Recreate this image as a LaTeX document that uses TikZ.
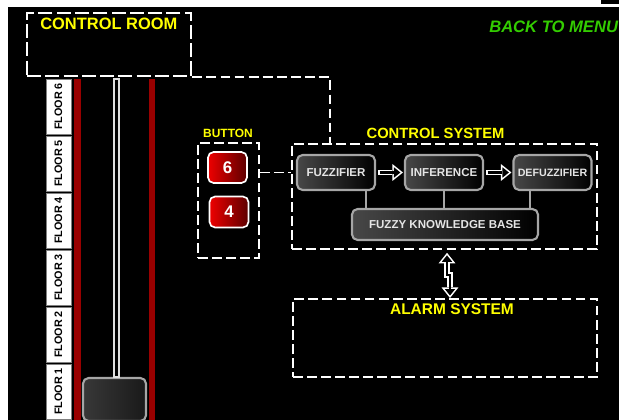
\documentclass[tikz,border=0pt]{standalone}
\usepackage{fontspec}
\setmainfont{Liberation Sans}
\usetikzlibrary{arrows.meta}

\definecolor{railred}{HTML}{990000}
\definecolor{menugreen}{HTML}{33CC00}
\definecolor{labelyellow}{HTML}{FFFF00}
\definecolor{boxgray}{HTML}{A6A6A6}
\definecolor{btnlight}{HTML}{EE0000}
\definecolor{btndark}{HTML}{5C0000}

\tikzset{
    outtip/.tip={Triangle[length=7.5pt, width=12pt, line width=0pt]},
    intip/.tip={Triangle[length=4.6pt, width=7.4pt, line width=0pt]},
    dashbox/.style={draw=white, line width=1.4pt, dash pattern=on 7pt off 3pt, inner sep=0pt},
    wire/.style={draw=white, line width=1.4pt, dash pattern=on 7pt off 3pt},
    title/.style={text=labelyellow, font=\bfseries\fontsize{11}{13}\selectfont, inner sep=0pt},
    unitbox/.style={draw=boxgray, line width=1.5pt, rounded corners=4pt, left color=white!28!black, right color=black, text=white!90!black, font=\bfseries\fontsize{8.2}{10}\selectfont, minimum width=1.95cm, minimum height=0.875cm, inner sep=0pt},
    floorbox/.style={draw=gray, fill=white, line width=0.5pt, minimum width=1.375cm, minimum height=0.625cm, inner sep=0pt, font=\bfseries\fontsize{7.7}{9}\selectfont},
    callbtn/.style={draw=white, line width=1.2pt, rounded corners=4pt, left color=btnlight, right color=btndark, text=white, font=\bfseries\fontsize{12}{14}\selectfont, minimum width=0.975cm, minimum height=0.775cm, inner sep=0pt},
    hollowout/.style={draw=white, line width=4.2pt, -outtip},
    hollowin/.style={draw=black, line width=2pt, -intip},
    link/.style={draw=boxgray, line width=1.2pt}
}

\begin{document}
\begin{tikzpicture}[x=0.025cm, y=-0.025cm]

    \useasboundingbox (0,0) rectangle (619,420);

    \fill[white] (0,0) rectangle (619,420);

    \fill[black] (8,7) rectangle (619,420);

    \fill[black] (601,0) rectangle (619,4);

    \node[dashbox, line width=2pt, dash pattern=on 10pt off 3pt, minimum width=4.1cm, minimum height=1.575cm] (room) at (109,44.5) {};

    \node[title, anchor=west, font=\bfseries\fontsize{11.7}{14}\selectfont] (roomlabel) at (40,24) {CONTROL ROOM};

    \node[anchor=west, text=menugreen, font=\bfseries\itshape\fontsize{11.8}{14}\selectfont, inner sep=0pt] (menu) at (489,26.5) {BACK TO MENU};

    \fill[railred] (74,79) rectangle (81,420);

    \fill[railred] (149,79) rectangle (155,420);

    \foreach \f in {1,...,6}
        \node[floorbox, rotate=90] (floor\f) at (58.5,{106.5+(6-\f)*57}) {FLOOR \f};

    \node[draw=boxgray, line width=1.5pt, rounded corners=4pt, left color=white!22!black, right color=black!90!white, minimum width=1.575cm, minimum height=1.075cm] (car) at (114.5,399.5) {};

    \draw[white!75!gray, line width=0.8pt] (114,79) rectangle (119,0 |- car.north);

    \node[title, font=\bfseries\fontsize{8.5}{10}\selectfont] (btnlabel) at (228,133) {BUTTON};

    \node[dashbox, minimum width=1.525cm, minimum height=2.875cm] (btnbox) at (228.5,200.5) {};

    \node[callbtn] (btn6) at (227.5,167.5) {6};

    \node[callbtn] (btn4) at (229,212) {4};

    \node[title, font=\bfseries\fontsize{10.5}{13}\selectfont] (ctrllabel) at (435.5,133) {CONTROL SYSTEM};

    \node[dashbox, minimum width=7.625cm, minimum height=2.625cm] (ctrl) at (444.5,196.5) {};

    \node[unitbox] (fuzz) at (336,172.5) {FUZZIFIER};

    \node[unitbox] (inf) at (444,172.5) {INFERENCE};

    \node[unitbox, font=\bfseries\fontsize{7.6}{9}\selectfont] (defuzz) at (552.5,172.5) {DEFUZZIFIER};

    \node[unitbox, minimum width=4.65cm, minimum height=0.775cm] (kb) at (445,224.5) {FUZZY KNOWLEDGE BASE};

    \draw[hollowout, shorten <=1.4pt, shorten >=0.7pt] (fuzz) -- (inf);
    \draw[hollowin, shorten <=2.5pt, shorten >=2.5pt] (fuzz) -- (inf);

    \draw[hollowout, shorten <=1.4pt, shorten >=0.7pt] (inf) -- (defuzz);
    \draw[hollowin, shorten <=2.5pt, shorten >=2.5pt] (inf) -- (defuzz);

    \draw[link] (366,0 |- fuzz.south) -- (366,0 |- kb.north);

    \draw[link] (inf.south) -- (inf.south |- kb.north);

    \draw[link] (530,0 |- defuzz.south) -- (530,0 |- kb.north);

    \draw[wire] (btnbox.east |- fuzz) -- (ctrl.west |- fuzz);

    \draw[wire] (room.south east) -| (330,0 |- ctrl.north);

    \node[dashbox, minimum width=7.6cm, minimum height=1.95cm] (alarm) at (445,338) {};

    \node[title] (alarmlabel) at (452,309) {ALARM SYSTEM};

    \draw[hollowout, outtip-outtip, shorten <=2pt, shorten >=0pt] (447,0 |- ctrl.south) -- (447,275) -- (450,275) -- (450,0 |- alarm.north);
    \draw[hollowin, intip-intip, shorten <=3.8pt, shorten >=1.8pt] (447,0 |- ctrl.south) -- (447,275) -- (450,275) -- (450,0 |- alarm.north);

\end{tikzpicture}
\end{document}
